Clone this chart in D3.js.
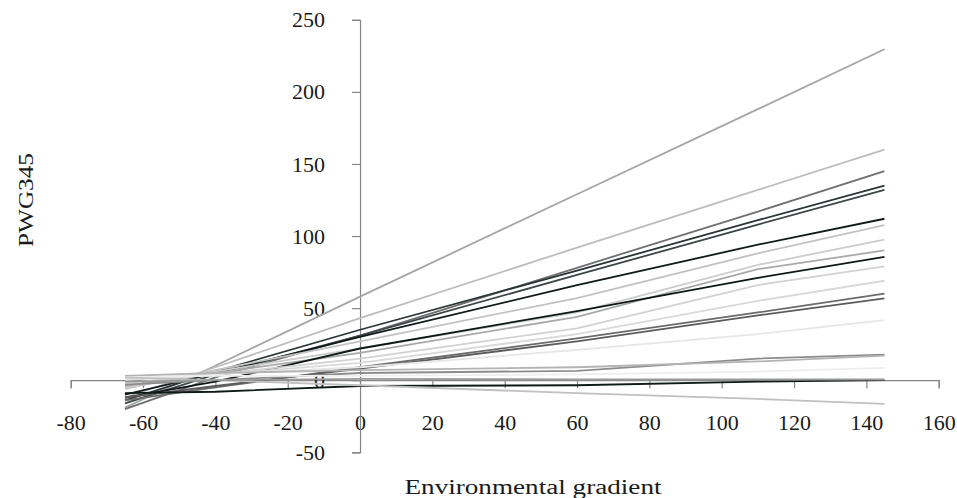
<!DOCTYPE html>
<html>
<head>
<meta charset="utf-8">
<script src="https://cdn.jsdelivr.net/npm/d3@7"></script>
<style>
  html, body { margin: 0; padding: 0; background: #fff; }
  svg { display: block; }
</style>
</head>
<body>
<svg id="chart" width="957" height="498"></svg>
<script>
// Environmental gradient sample points (x)
const gradient = [-65, -40, 0, 60, 110, 145];

// PWG345 series (y values at each gradient point)
const s1  = [-19, 10, 58, 129, 188, 229.6];
const s2  = [-12, 9, 43, 92, 132, 160];
const s3  = [-20, 2, 31, 78, 117, 145];
const s4  = [-14, 6, 35, 76, 111, 135];
const s5  = [-16, 4, 31, 73, 108, 132];
const s6  = [-10, 5, 30, 66, 94, 112];
const s7  = [-6, 7, 27, 57, 88, 107.6];
const s8  = [-5, 6, 22, 47, 80, 97.5];
const s9  = [-4, 5, 19, 44, 77, 90];
const s10 = [-12, -1, 22, 48, 71, 85.5];
const s11 = [-2, 4, 15, 36, 66, 79];
const s12 = [0, 4, 12, 32, 55, 69];
const s13 = [-14, -5, 9, 29, 47, 60];
const s14 = [-12, -4, 8, 27, 45, 56.7];
const s15 = [1, 4, 9, 21, 32, 41.7];
const s16 = [-3, 0, 5, 6.5, 15, 17.7];
const s17 = [3, 5, 7, 9, 13, 17];
const s18 = [2, 3, 3, 4, 6, 8.5];
const s19 = [-9, -8, -4, -3.5, -1, 0];
const s20 = [2, 0, -3.5, -9, -13, -16.4];
const s21 = [-1, 0, 1, 0.5, 0.5, 0.5];

const seriesList = [s1, s2, s3, s4, s5, s6, s7, s8, s9, s10, s11, s12, s13, s14, s15, s16, s17, s18, s19, s20, s21];

// Tick labels
const xTicks = [-80, -60, -40, -20, 0, 20, 40, 60, 80, 100, 120, 140, 160];
const yTicks = [-50, 0, 50, 100, 150, 200, 250];

// Styles (kept separate from data)
const shades = ["#a5a5a5", "#bdbdbd", "#6f6f6f", "#2b3535", "#3d4545", "#121a1a", "#c2c2c2",
                "#cccccc", "#a9a9a9", "#0f1717", "#d2d2d2", "#d9d9d9", "#6b6b6b", "#5c5c5c",
                "#e6e6e6", "#8c8c8c", "#b3b3b3", "#eeeeee", "#101818", "#c0c0c0", "#9a9a9a"];

const FONT = "'Liberation Serif', 'Times New Roman', Times, 'DejaVu Serif', serif";

const svg = d3.select("#chart");
const x = d3.scaleLinear().domain([-80, 160]).range([70.7, 938.7]);
const y = d3.scaleLinear().domain([-50, 250]).range([452.3, 19.8]);

const axisColor = "#858585";

// X axis at y = 0
const gx = svg.append("g")
  .attr("transform", `translate(0,${y(0)})`)
  .call(d3.axisBottom(x).tickValues(xTicks).tickSize(8).tickPadding(26).tickFormat(d => d));
gx.attr("font-family", null).attr("font-size", null);
gx.select(".domain").attr("stroke", axisColor).attr("stroke-width", 1.2);
gx.selectAll(".tick line").attr("stroke", axisColor).attr("stroke-width", 1.2);
gx.selectAll(".tick text").style("font-family", FONT).style("font-size", "22px").attr("fill", "#1a1a1a");

// Y axis at x = 0
const gy = svg.append("g")
  .attr("transform", `translate(${x(0)},0)`)
  .call(d3.axisLeft(y).tickValues(yTicks).tickSize(8).tickPadding(27).tickFormat(d => d));
gy.attr("font-family", null).attr("font-size", null);
gy.select(".domain").attr("stroke", axisColor).attr("stroke-width", 1.2);
gy.selectAll(".tick line").attr("stroke", axisColor).attr("stroke-width", 1.2);
gy.selectAll(".tick text").style("font-family", FONT).style("font-size", "22px").attr("fill", "#1a1a1a");

// Lines
const line = d3.line().x((d, i) => x(gradient[i])).y(d => y(d));
svg.append("g").selectAll("path")
  .data(seriesList)
  .join("path")
  .attr("d", d => line(d))
  .attr("fill", "none")
  .attr("stroke", (d, i) => shades[i])
  .attr("stroke-width", 1.8);

// Axis titles
svg.append("text")
  .attr("x", 533).attr("y", 494)
  .attr("text-anchor", "middle")
  .attr("textLength", 257).attr("lengthAdjust", "spacingAndGlyphs")
  .style("font-family", FONT)
  .style("font-size", "20px")
  .attr("fill", "#1a1a1a")
  .text("Environmental gradient");

svg.append("text")
  .attr("transform", "translate(33,200) rotate(-90)")
  .attr("text-anchor", "middle")
  .attr("textLength", 94).attr("lengthAdjust", "spacingAndGlyphs")
  .style("font-family", FONT)
  .style("font-size", "21px")
  .attr("fill", "#1a1a1a")
  .text("PWG345");
</script>
</body>
</html>
